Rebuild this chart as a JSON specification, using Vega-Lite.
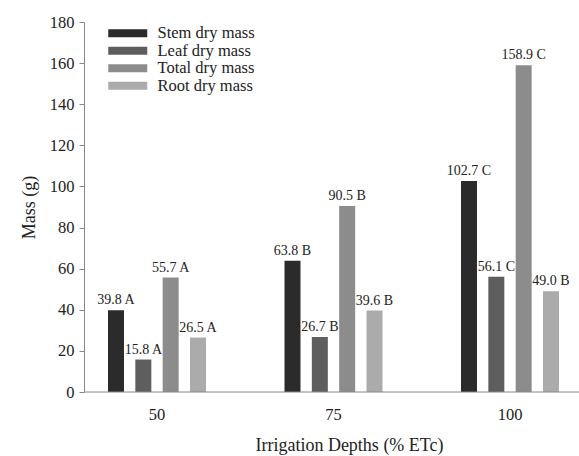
{
  "$schema": "https://vega.github.io/schema/vega-lite/v6.json",
  "width": 495,
  "height": 370,
  "autosize": {"type": "none"},
  "padding": {"left": 84, "top": 22, "right": 0, "bottom": 64},
  "config": {
    "font": "Liberation Serif",
    "view": {"stroke": null},
    "style": {"guide-label": {"font": "Liberation Serif"}, "guide-title": {"font": "Liberation Serif"}},
    "axis": {"grid": false, "labelFont": "Liberation Serif", "titleFont": "Liberation Serif", "titleFontWeight": "normal", "labelColor": "#222", "titleColor": "#222", "domainColor": "#888", "tickColor": "#888"},
    "legend": {"labelFont": "Liberation Serif"}
  },
  "data": {
    "values": [
      {"depth": "50", "series": "Stem dry mass", "mass": 39.8, "label": "39.8 A"},
      {"depth": "50", "series": "Leaf dry mass", "mass": 15.8, "label": "15.8 A"},
      {"depth": "50", "series": "Total dry mass", "mass": 55.7, "label": "55.7 A"},
      {"depth": "50", "series": "Root dry mass", "mass": 26.5, "label": "26.5 A"},
      {"depth": "75", "series": "Stem dry mass", "mass": 63.8, "label": "63.8 B"},
      {"depth": "75", "series": "Leaf dry mass", "mass": 26.7, "label": "26.7 B"},
      {"depth": "75", "series": "Total dry mass", "mass": 90.5, "label": "90.5 B"},
      {"depth": "75", "series": "Root dry mass", "mass": 39.6, "label": "39.6 B"},
      {"depth": "100", "series": "Stem dry mass", "mass": 102.7, "label": "102.7 C"},
      {"depth": "100", "series": "Leaf dry mass", "mass": 56.1, "label": "56.1 C"},
      {"depth": "100", "series": "Total dry mass", "mass": 158.9, "label": "158.9 C"},
      {"depth": "100", "series": "Root dry mass", "mass": 49.0, "label": "49.0 B"}
    ]
  },
  "layer": [
    {
      "mark": {"type": "bar"},
      "encoding": {
        "x": {
          "field": "depth", "type": "ordinal", "sort": ["50", "75", "100"],
          "scale": {"range": [-15.25, 514.25], "paddingInner": 0, "paddingOuter": 0},
          "axis": {"title": "Irrigation Depths (% ETc)", "labelAngle": 0, "domain": false, "ticks": false, "tickSize": 0, "labelPadding": 14, "labelFont": "Liberation Serif", "labelFontSize": 16.5, "titleFont": "Liberation Serif", "titleFontSize": 18, "titleX": 265, "titleY": 44, "titleBaseline": "top"}
        },
        "xOffset": {
          "field": "series", "type": "nominal",
          "sort": ["Stem dry mass", "Leaf dry mass", "Total dry mass", "Root dry mass"],
          "scale": {"range": [39.25, 137.25], "paddingInner": 0.415, "paddingOuter": 0}
        },
        "y": {
          "field": "mass", "type": "quantitative",
          "scale": {"domain": [0, 180], "nice": false},
          "axis": {"title": "Mass (g)", "values": [0, 20, 40, 60, 80, 100, 120, 140, 160, 180], "tickSize": 5, "labelPadding": 5, "labelFont": "Liberation Serif", "labelFontSize": 16.5, "titleFont": "Liberation Serif", "titleFontSize": 18, "titlePadding": 11}
        },
        "color": {
          "field": "series", "type": "nominal",
          "sort": ["Stem dry mass", "Leaf dry mass", "Total dry mass", "Root dry mass"],
          "scale": {"domain": ["Stem dry mass", "Leaf dry mass", "Total dry mass", "Root dry mass"], "range": ["#2b2b2b", "#5e5e5e", "#8c8c8c", "#ababab"]},
          "legend": {
            "title": null, "orient": "none", "legendX": 35.5, "legendY": 3,
            "symbolType": "M-2.4375,-0.5H2.4375V0.5H-2.4375Z", "symbolSize": 256, "symbolStrokeWidth": 0,
            "labelOffset": 21.5, "rowPadding": 0.5, "padding": 0, "labelFont": "Liberation Serif", "labelFontSize": 16.5, "labelColor": "#222", "symbolOpacity": 1
          }
        }
      }
    },
    {
      "mark": {"type": "text", "baseline": "alphabetic", "dy": -6, "fontSize": 14, "color": "#222", "font": "Liberation Serif"},
      "encoding": {
        "x": {"field": "depth", "type": "ordinal", "sort": ["50", "75", "100"]},
        "xOffset": {"field": "series", "type": "nominal", "sort": ["Stem dry mass", "Leaf dry mass", "Total dry mass", "Root dry mass"]},
        "y": {"field": "mass", "type": "quantitative"},
        "text": {"field": "label"}
      }
    },
    {
      "data": {"values": [{"y0": 0}]},
      "mark": {"type": "rule", "color": "#888", "strokeWidth": 1},
      "encoding": {"y": {"field": "y0", "type": "quantitative"}}
    }
  ]
}
